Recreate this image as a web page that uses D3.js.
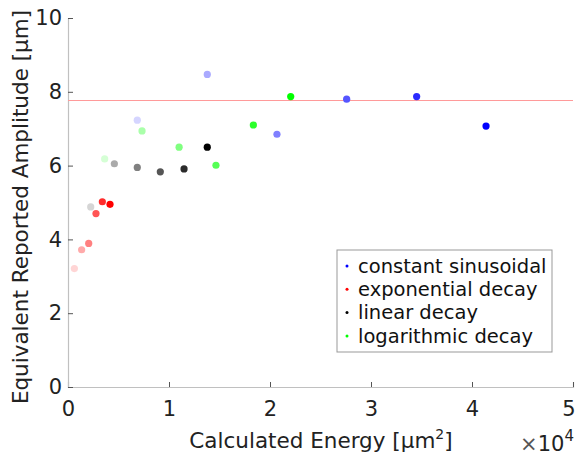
<!DOCTYPE html>
<html>
<head>
<meta charset="utf-8">
<script src="https://cdn.jsdelivr.net/npm/d3@7"></script>
<style>
  body { margin: 0; background: #fff; }
  text { font-family: "DejaVu Sans", sans-serif; }
</style>
</head>
<body>
<div id="chart"></div>
<script>
// energy values are in units of 1e4 um^2
var seriesNames = ["constant sinusoidal", "exponential decay", "linear decay", "logarithmic decay"]
var seriesColors = ["#0000ff", "#ff0000", "#000000", "#00ff00"]
var sinusoidalX = [0.686, 1.379, 2.069, 2.759, 3.452, 4.139]
var sinusoidalY = [7.23, 8.47, 6.85, 7.80, 7.87, 7.07]
var exponentialX = [0.063, 0.135, 0.205, 0.277, 0.340, 0.416]
var exponentialY = [3.21, 3.72, 3.89, 4.70, 5.02, 4.95]
var linearX = [0.225, 0.459, 0.686, 0.914, 1.149, 1.379]
var linearY = [4.88, 6.05, 5.95, 5.83, 5.91, 6.50]
var logarithmicX = [0.363, 0.733, 1.100, 1.465, 1.835, 2.205]
var logarithmicY = [6.18, 6.94, 6.50, 6.01, 7.10, 7.87]
var referenceAmp = 7.79
var xTicks = [0, 1, 2, 3, 4, 5]
var yTicks = [0, 2, 4, 6, 8, 10]

var allX = [sinusoidalX, exponentialX, linearX, logarithmicX]
var allY = [sinusoidalY, exponentialY, linearY, logarithmicY]

var width = 578, height = 457
var margin = {top: 18, right: 5, bottom: 70, left: 68}
var w = width - margin.left - margin.right
var h = height - margin.top - margin.bottom
var tickFs = "21px", labelFs = "21.5px", legendFs = "19.5px"

var svg = d3.select("#chart").append("svg")
  .attr("width", width)
  .attr("height", height)

var g = svg.append("g")
  .attr("transform", "translate(" + margin.left + "," + margin.top + ")")

var x = d3.scaleLinear().domain([0, 5]).range([0, w])
var y = d3.scaleLinear().domain([0, 10]).range([h, 0])

// axes, ticks point inward like matlab
var xAxis = g.append("g")
  .attr("transform", "translate(0," + h + ")")
  .call(d3.axisBottom(x).tickValues(xTicks).tickFormat(d3.format("d")).tickSize(-5).tickPadding(14))
var yAxis = g.append("g")
  .call(d3.axisLeft(y).tickValues(yTicks).tickFormat(d3.format("d")).tickSize(-5).tickPadding(6))

;[xAxis, yAxis].forEach(function(a){
  a.select(".domain").attr("stroke", "#c0c0c0").attr("stroke-width", 1.2)
  a.selectAll(".tick line").attr("stroke", "#555")
  a.selectAll(".tick text").attr("fill", "#222").style("font-size", tickFs)
})
// keep the last x label inside the page
xAxis.selectAll(".tick text").filter(function(d){ return d == 5 }).attr("text-anchor", "end").attr("dx", "0.1em")

// reference line
g.append("line")
  .attr("x1", 0).attr("x2", w)
  .attr("y1", Math.round(y(referenceAmp)) + 0.5).attr("y2", Math.round(y(referenceAmp)) + 0.5)
  .attr("stroke", "#ff9a9a").attr("stroke-width", 1)

// points, each later point in a series is more saturated
function shade(base, i, n){
  var t = (n - 1 - i) / n
  return d3.interpolateRgb(base, "#ffffff")(t)
}

allX.forEach(function(xs, s){
  g.selectAll(".pt" + s)
    .data(xs)
    .enter()
    .append("circle")
      .attr("cx", function(d){ return x(d) })
      .attr("cy", function(d, i){ return y(allY[s][i]) })
      .attr("r", 3.6)
      .attr("fill", function(d, i){ return shade(seriesColors[s], i, xs.length) })
})

// axis labels
svg.append("text")
  .attr("x", 321)
  .attr("y", 448)
  .attr("text-anchor", "middle")
  .style("font-size", labelFs)
  .attr("fill", "#222")
  .html("Calculated Energy [μm<tspan dy='-9' font-size='14px'>2</tspan><tspan dy='9'>]</tspan>")

svg.append("text")
  .attr("transform", "translate(28,207) rotate(-90)")
  .attr("text-anchor", "middle")
  .style("font-size", labelFs)
  .attr("fill", "#222")
  .text("Equivalent Reported Amplitude [μm]")

svg.append("text")
  .attr("x", 574)
  .attr("y", 451)
  .attr("text-anchor", "end")
  .style("font-size", tickFs)
  .attr("fill", "#222")
  .html("<tspan fill='#555'>×</tspan>10<tspan dy='-10' font-size='15px'>4</tspan>")

// legend
var leg = svg.append("g").attr("transform", "translate(337,250)")
leg.append("rect")
  .attr("width", 215).attr("height", 102)
  .attr("fill", "#fff").attr("stroke", "#999").attr("stroke-width", 1)
leg.selectAll("circle")
  .data(seriesNames)
  .enter()
  .append("circle")
    .attr("cx", 10)
    .attr("cy", function(d, i){ return 16 + i*23.3 })
    .attr("r", 1.5)
    .attr("fill", function(d, i){ return seriesColors[i] })
leg.selectAll("text")
  .data(seriesNames)
  .enter()
  .append("text")
    .attr("x", 21)
    .attr("y", function(d, i){ return 16 + i*23.3 })
    .attr("dy", "0.35em")
    .style("font-size", legendFs)
    .attr("fill", "#111")
    .text(function(d){ return d })
</script>
</body>
</html>
